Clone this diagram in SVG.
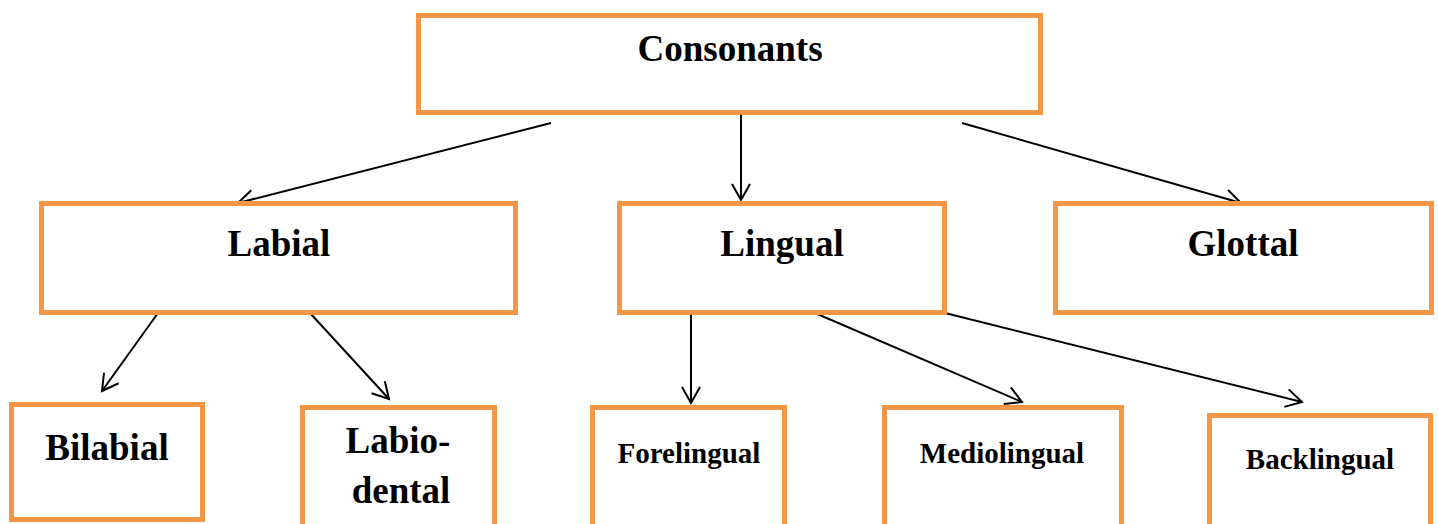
<svg xmlns="http://www.w3.org/2000/svg" width="1438" height="524" viewBox="0 0 1438 524">
<style>
.box{fill:#fff;stroke:#F79646;stroke-width:5}
.t{font-family:"Liberation Serif","Times New Roman",serif;font-weight:bold;fill:#000;text-anchor:middle}
.big{font-size:37px}
.small{font-size:29px}
.c{stroke:#000;stroke-width:2;fill:none;marker-end:url(#arr)}
</style>
<defs>
<marker id="arr" markerUnits="userSpaceOnUse" markerWidth="24" markerHeight="24" refX="18" refY="10" orient="auto">
<path d="M2,1 L18,10 L2,19" fill="none" stroke="#000" stroke-width="2"/>
</marker>
</defs>
<g id="connectors">
<line class="c" x1="551" y1="123" x2="238" y2="203"/>
<line class="c" x1="741" y1="114" x2="741" y2="200"/>
<line class="c" x1="962" y1="123" x2="1241" y2="203"/>
<line class="c" x1="158" y1="313" x2="102" y2="391"/>
<line class="c" x1="310" y1="313" x2="389" y2="399"/>
<line class="c" x1="691" y1="313" x2="691" y2="403"/>
<line class="c" x1="815" y1="313" x2="1022" y2="402"/>
<line class="c" x1="945" y1="313" x2="1302" y2="402"/>
</g>
<g id="consonants"><rect class="box" x="418.5" y="15.5" width="622" height="97"/><text class="t big" x="730" y="61">Consonants</text></g>
<g id="labial"><rect class="box" x="41.5" y="203.5" width="474" height="109"/><text class="t big" x="279" y="256">Labial</text></g>
<g id="lingual"><rect class="box" x="619.5" y="203.5" width="325" height="109"/><text class="t big" x="782" y="256">Lingual</text></g>
<g id="glottal"><rect class="box" x="1055.5" y="203.5" width="376" height="109"/><text class="t big" x="1243" y="256">Glottal</text></g>
<g id="bilabial"><rect class="box" x="11.5" y="404.5" width="191" height="115"/><text class="t big" x="107" y="460">Bilabial</text></g>
<g id="labiodental"><rect class="box" x="302.5" y="407.5" width="192" height="130"/><text class="t big" x="398" y="453">Labio-</text><text class="t big" x="401" y="503">dental</text></g>
<g id="forelingual"><rect class="box" x="592.5" y="407.5" width="192" height="130"/><text class="t small" x="689" y="463">Forelingual</text></g>
<g id="mediolingual"><rect class="box" x="884.5" y="407.5" width="237" height="130"/><text class="t small" x="1002" y="463">Mediolingual</text></g>
<g id="backlingual"><rect class="box" x="1209.5" y="415.5" width="221" height="130"/><text class="t small" x="1320" y="469">Backlingual</text></g>
</svg>
